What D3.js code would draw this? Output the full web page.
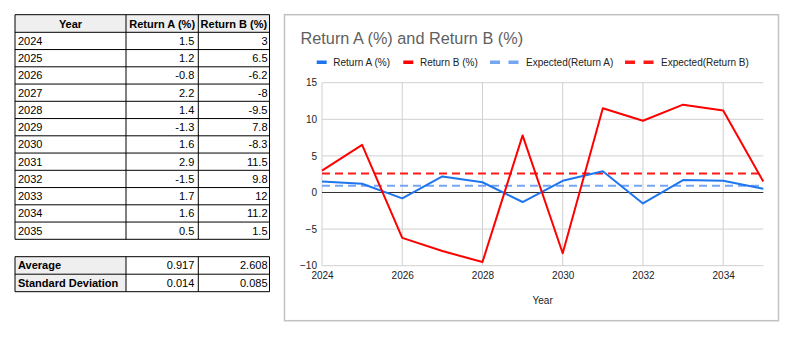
<!DOCTYPE html>
<html>
<head>
<meta charset="utf-8">
<script src="https://cdn.jsdelivr.net/npm/d3@7"></script>
<style>
  html, body { margin: 0; padding: 0; background: #ffffff; }
  svg { display: block; font-family: Arial, "Liberation Sans", sans-serif; }
</style>
</head>
<body>
<svg id="chart" width="800" height="342"></svg>
<script>
// ---- data ----
const years = [2024, 2025, 2026, 2027, 2028, 2029, 2030, 2031, 2032, 2033, 2034, 2035];
const returnA = [1.5, 1.2, -0.8, 2.2, 1.4, -1.3, 1.6, 2.9, -1.5, 1.7, 1.6, 0.5];
const returnB = [3, 6.5, -6.2, -8, -9.5, 7.8, -8.3, 11.5, 9.8, 12, 11.2, 1.5];
const tableHeaders = ["Year", "Return A (%)", "Return B (%)"];
const summaryLabels = ["Average", "Standard Deviation"];
const summaryA = ["0.917", "0.014"];
const summaryB = ["2.608", "0.085"];
const expectedA = 0.917;
const expectedB = 2.608;
const chartTitle = "Return A (%) and Return B (%)";
const seriesNames = ["Return A (%)", "Return B (%)", "Expected(Return A)", "Expected(Return B)"];
const yTicks = [-10, -5, 0, 5, 10, 15];
const xTicks = [2024, 2026, 2028, 2030, 2032, 2034];
const xTitle = "Year";

const svg = d3.select("#chart");

// ---- table ----
const colX = [15, 126, 198.3, 269.5];
const headTop = 14.7, headH = 17.6, rowH = 17.25;
const tbl = svg.append("g");

function cellText(g, txt, col, yTop, h, opts) {
  const o = opts || {};
  let x, anchor;
  if (o.align === "center") { x = (colX[col] + colX[col + 1]) / 2; anchor = "middle"; }
  else if (o.align === "right") { x = colX[col + 1] - (col === 2 ? 2 : 4); anchor = "end"; }
  else { x = colX[col] + 3; anchor = "start"; }
  g.append("text").attr("x", x).attr("y", yTop + h / 2 + 4)
    .attr("text-anchor", anchor).attr("font-size", 11)
    .attr("font-weight", o.bold ? "bold" : "normal")
    .attr("fill", "#000").text(txt);
}

// header background
tbl.append("rect").attr("x", colX[0]).attr("y", headTop).attr("width", colX[3] - colX[0]).attr("height", headH).attr("fill", "#efefef");
tableHeaders.forEach((h, i) => cellText(tbl, h, i, headTop, headH, { align: "center", bold: true }));
years.forEach((yr, i) => {
  const top = headTop + headH + i * rowH;
  cellText(tbl, String(yr), 0, top, rowH, {});
  cellText(tbl, String(returnA[i]), 1, top, rowH, { align: "right" });
  cellText(tbl, String(returnB[i]), 2, top, rowH, { align: "right" });
});
const tblBottom = headTop + headH + years.length * rowH;
// grid lines
const hLinesY = [headTop, headTop + headH].concat(years.map((d, i) => headTop + headH + (i + 1) * rowH));
hLinesY.forEach(y => tbl.append("line").attr("x1", colX[0]).attr("x2", colX[3]).attr("y1", y).attr("y2", y).attr("stroke", "#000").attr("stroke-width", 1));
colX.forEach(x => tbl.append("line").attr("x1", x).attr("x2", x).attr("y1", headTop).attr("y2", tblBottom).attr("stroke", "#000").attr("stroke-width", 1));

// summary table
const sumTop = 256.7, sumH = 17.5;
summaryLabels.forEach((lab, i) => {
  const top = sumTop + i * sumH;
  tbl.append("rect").attr("x", colX[0]).attr("y", top).attr("width", colX[1] - colX[0]).attr("height", sumH).attr("fill", "#efefef");
  cellText(tbl, lab, 0, top, sumH, { bold: true });
  cellText(tbl, summaryA[i], 1, top, sumH, { align: "right" });
  cellText(tbl, summaryB[i], 2, top, sumH, { align: "right" });
});
const sumBottom = sumTop + summaryLabels.length * sumH;
[0, 1, 2].forEach(i => { const y = sumTop + i * sumH; tbl.append("line").attr("x1", colX[0]).attr("x2", colX[3]).attr("y1", y).attr("y2", y).attr("stroke", "#000"); });
colX.forEach(x => tbl.append("line").attr("x1", x).attr("x2", x).attr("y1", sumTop).attr("y2", sumBottom).attr("stroke", "#000"));

// ---- chart panel ----
svg.append("rect").attr("x", 284.5).attr("y", 14.7).attr("width", 494).attr("height", 306)
  .attr("fill", "#fff").attr("stroke", "#c2c2c2").attr("stroke-width", 1.5);

svg.append("text").attr("x", 300.5).attr("y", 43.5).attr("font-size", 16.3).attr("fill", "#5f5f5f").text(chartTitle);

const x = d3.scaleLinear().domain([2024, 2035]).range([322, 763.3]);
const y = d3.scaleLinear().domain([-10, 15]).range([265.7, 82.7]);

const plot = svg.append("g");
// horizontal gridlines
plot.selectAll(".hg").data(yTicks.filter(v => v !== 0)).join("line")
  .attr("x1", x(2024)).attr("x2", x(2035)).attr("y1", d => y(d)).attr("y2", d => y(d))
  .attr("stroke", "#d0d0d0").attr("stroke-width", 1);
// vertical gridlines
plot.selectAll(".vg").data(xTicks).join("line")
  .attr("x1", d => x(d)).attr("x2", d => x(d)).attr("y1", y(15)).attr("y2", y(-10))
  .attr("stroke", "#d0d0d0").attr("stroke-width", 1);

// axes via d3 axis (labels only)
const yAxis = d3.axisLeft(y).tickValues(yTicks).tickSize(0).tickPadding(5);
const gy = svg.append("g").attr("transform", `translate(${x(2024)},0)`).call(yAxis);
gy.select(".domain").remove();
gy.selectAll("text").attr("font-size", 10).attr("fill", "#222").attr("font-family", "Arial, 'Liberation Sans', sans-serif");

const xAxis = d3.axisBottom(x).tickValues(xTicks).tickFormat(d3.format("d")).tickSize(0).tickPadding(6);
const gx = svg.append("g").attr("transform", `translate(0,${y(-10)})`).call(xAxis);
gx.select(".domain").remove();
gx.selectAll("text").attr("font-size", 10).attr("fill", "#222").attr("font-family", "Arial, 'Liberation Sans', sans-serif");

svg.append("text").attr("x", (x(2024) + x(2035)) / 2).attr("y", 303.5).attr("text-anchor", "middle")
  .attr("font-size", 10).attr("fill", "#222").text(xTitle);

// zero line
plot.append("line").attr("x1", x(2024)).attr("x2", x(2035)).attr("y1", y(0)).attr("y2", y(0))
  .attr("stroke", "#333").attr("stroke-width", 1);

const colA = "#1f75ee", colB = "#ff0000", colEA = "#76a6f2", colEB = "#ff1a1a";

// expected lines
plot.append("line").attr("x1", x(2024)).attr("x2", x(2035)).attr("y1", y(expectedA)).attr("y2", y(expectedA))
  .attr("stroke", colEA).attr("stroke-width", 2).attr("stroke-dasharray", "8,5");
plot.append("line").attr("x1", x(2024)).attr("x2", x(2035)).attr("y1", y(expectedB)).attr("y2", y(expectedB))
  .attr("stroke", colEB).attr("stroke-width", 2).attr("stroke-dasharray", "8,5");

const line = d3.line().x(d => x(d[0])).y(d => y(d[1]));
plot.append("path").datum(years.map((yr, i) => [yr, returnA[i]])).attr("d", line)
  .attr("fill", "none").attr("stroke", colA).attr("stroke-width", 2).attr("stroke-linejoin", "round");
plot.append("path").datum(years.map((yr, i) => [yr, returnB[i]])).attr("d", line)
  .attr("fill", "none").attr("stroke", colB).attr("stroke-width", 2).attr("stroke-linejoin", "round");

// ---- legend ----
const legY = 62;
const legend = svg.append("g");
const legItems = [
  { name: seriesNames[0], color: colA, dashed: false, sx: 316.7, tx: 333.3 },
  { name: seriesNames[1], color: colB, dashed: false, sx: 403.3, tx: 420 },
  { name: seriesNames[2], color: colEA, dashed: true, sx: 490, tx: 526 },
  { name: seriesNames[3], color: colEB, dashed: true, sx: 625, tx: 661 }
];
legItems.forEach(it => {
  if (it.dashed) {
    legend.append("rect").attr("x", it.sx).attr("y", legY - 1.5).attr("width", 10).attr("height", 3.5).attr("fill", it.color);
    legend.append("rect").attr("x", it.sx + 18.5).attr("y", legY - 1.5).attr("width", 10).attr("height", 3.5).attr("fill", it.color);
  } else {
    legend.append("rect").attr("x", it.sx).attr("y", legY - 1.5).attr("width", 10).attr("height", 3.5).attr("fill", it.color);
  }
  legend.append("text").attr("x", it.tx).attr("y", legY + 3.5).attr("font-size", 10).attr("fill", "#222").text(it.name);
});
</script>
</body>
</html>
